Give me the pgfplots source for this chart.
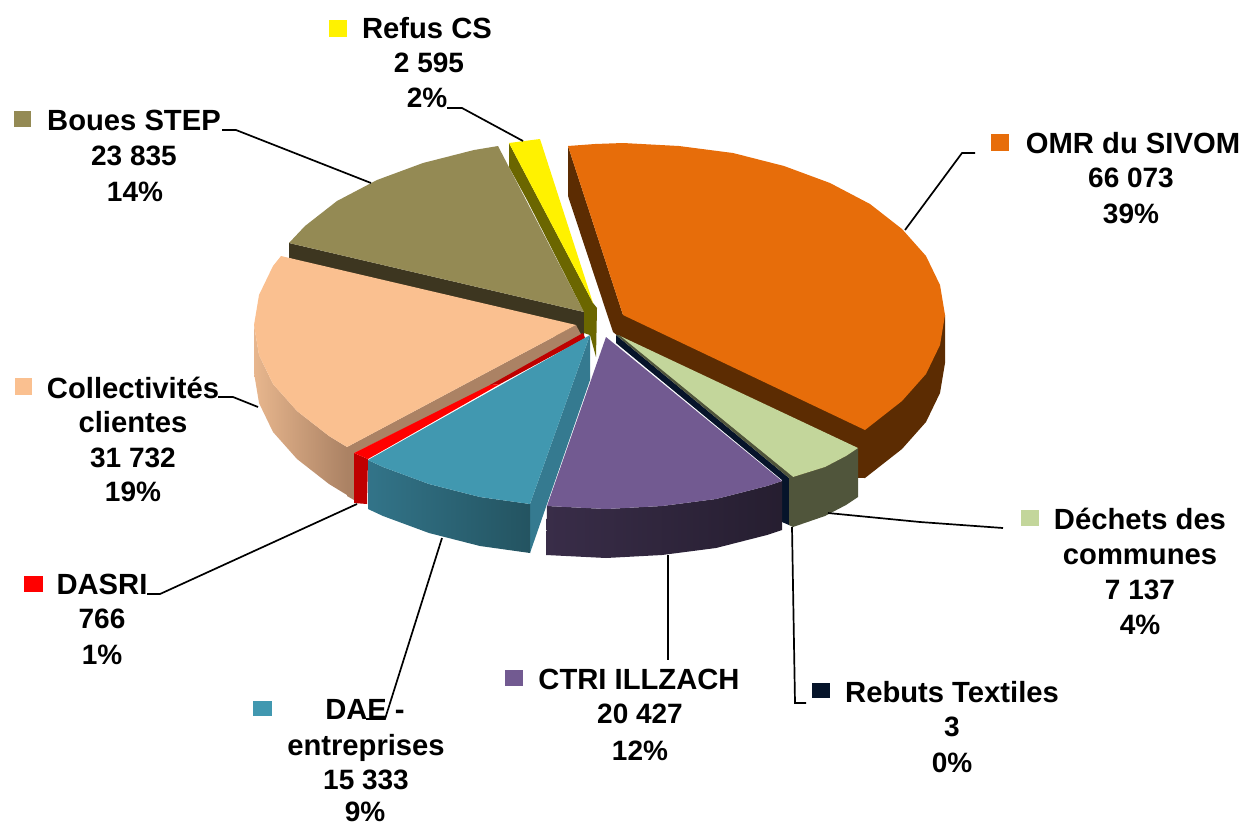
\documentclass[border=0pt]{standalone}
\usepackage{pgfplots}
\pgfplotsset{compat=1.18}
\usepackage{fontspec}
\setmainfont{Liberation Sans}

\definecolor{omr}{HTML}{E76D0A}
\definecolor{omrside}{HTML}{5C2C02}
\definecolor{dech}{HTML}{C3D69B}
\definecolor{dechside}{HTML}{50553B}
\definecolor{rebut}{HTML}{06142A}
\definecolor{ctri}{HTML}{725A91}
\definecolor{dae}{HTML}{4198B0}
\definecolor{daeside}{HTML}{357A90}
\definecolor{coll}{HTML}{FAC090}
\definecolor{collside}{HTML}{AB8264}
\definecolor{boues}{HTML}{948A54}
\definecolor{bouesside}{HTML}{3D3620}
\definecolor{refusside}{HTML}{6B6600}

% numbers at 28, names a little wider as in the picture
\newcommand{\lab}[3]{\node[anchor=base,inner sep=0pt,font=\fontsize{28}{34}\selectfont\bfseries] at (axis cs:#1,#2) {#3};}
\newcommand{\nam}[3]{\node[anchor=base,inner sep=0pt,font=\fontsize{29.2}{34}\selectfont\bfseries] at (axis cs:#1,#2) {#3};}
\newcommand{\key}[5]{\addplot[draw=none,fill=#5] coordinates {(#1,#2) (#3,#2) (#3,#4) (#1,#4)} --cycle;}
\tikzset{leader/.style={black,line width=1.7pt,mark=none}}

\begin{document}
\begin{tikzpicture}
\begin{axis}[
    width=1242pt, height=823pt,
    scale only axis,
    hide axis,
    xmin=0, xmax=1242,
    ymin=0, ymax=823,
    y dir=reverse,
]
\path (rel axis cs:0,0) rectangle (rel axis cs:1,1);

% Boues STEP
\addplot[draw=none,fill=bouesside] coordinates {(289,243) (584,312) (584,345) (289,258)} --cycle;
\addplot[draw=none,fill=boues] coordinates {(289,243) (305,226) (337,201) (377,180) (423,163) (474,150) (498,146) (584,312)} --cycle;

% Refus CS
\addplot[draw=none,fill=refusside] coordinates {(509,143) (509,167) (527,200) (584,312) (584,333) (590,335) (596,357) (597,308) (593,303)} --cycle;
\addplot[draw=none,fill=yellow] coordinates {(509,143) (540,139) (593,303)} --cycle;

% OMR du SIVOM
\addplot[draw=none,fill=omrside] coordinates {(568,146) (568,196) (613,332) (618,336) (793,477) (865,478) (902,449) (926,422) (940,393) (945,363) (945,315) (623,315)} --cycle;
\addplot[draw=none,fill=omr] coordinates {(568,146) (595,144) (623,143) (679,146) (733,153) (784,166) (830,183) (870,204) (902,229) (926,256) (940,285) (945,315) (940,345) (926,374) (902,401) (865,430) (623,315)} --cycle;

% Dechets des communes
\addplot[draw=none,fill=dechside] coordinates {(793,477) (825,467) (846,456) (858,448) (858,497) (846,505) (825,516) (793,527)} --cycle;
\addplot[draw=none,fill=dech] coordinates {(618,335) (858,448) (846,456) (825,467) (793,477)} --cycle;

% Rebuts textiles
\addplot[draw=none,fill=rebut] coordinates {(616,335) (789,478) (789,525) (782,522) (782,480) (616,343)} --cycle;
\addplot[draw=none,fill=dechside] coordinates {(616,335) (619,335) (793,477) (793,527) (789,525) (789,478)} --cycle;

% CTRI ILLZACH
\addplot[draw=none,left color=ctri!50!black,right color=ctri!33!black] coordinates {(547,506) (606,509) (662,506) (716,499) (767,486) (782,481) (782,530) (767,535) (716,548) (662,555) (606,558) (546,555)} --cycle;
\addplot[draw=none,fill=ctri] coordinates {(606,337) (782,481) (767,486) (716,499) (662,506) (606,509) (547,506)} --cycle;

% Collectivites clientes
\addplot[draw=none,left color=coll!85!gray,right color=collside] coordinates {(254,325) (254,373) (259,403) (273,432) (297,459) (329,484) (347,495) (347,447) (329,436) (297,411) (273,384) (259,355)} --cycle;
\addplot[draw=none,fill=collside] coordinates {(576,325) (347,447) (347,496) (354,500) (354,453) (584,340)} --cycle;
\addplot[draw=none,fill=coll] coordinates {(281,256) (273,266) (259,295) (254,325) (259,355) (273,384) (297,411) (329,436) (347,447) (576,325)} --cycle;

% DASRI
\addplot[draw=none,fill=red!75!black] coordinates {(354,453) (354,503) (367,504) (368,459)} --cycle;
\addplot[draw=none,fill=red!75!black] coordinates {(490,385) (583,333) (585,338) (500,384)} --cycle;
\addplot[draw=none,fill=red] coordinates {(354,453) (368,459) (500,384) (490,385)} --cycle;

% DAE - entreprises
\addplot[draw=none,fill=daeside] coordinates {(590,335) (530,504) (530,553) (590,380)} --cycle;
\addplot[draw=none,left color=daeside!95!black,right color=dae!55!black] coordinates {(368,460) (383,467) (429,484) (480,497) (530,504) (530,553) (480,546) (429,533) (383,516) (368,509)} --cycle;
\addplot[draw=none,fill=dae] coordinates {(590,335) (368,460) (383,467) (429,484) (480,497) (530,504)} --cycle;

% leader lines
\addplot[leader] coordinates {(905,230) (962,153) (975,153)};
\addplot[leader] coordinates {(447,108) (462,108) (523,141)};
\addplot[leader] coordinates {(222,130) (236,130) (371,183)};
\addplot[leader] coordinates {(218,397) (233,397) (258,407)};
\addplot[leader] coordinates {(147,594) (160,594) (357,504)};
\addplot[leader] coordinates {(366,719) (385,719) (442,538)};
\addplot[leader] coordinates {(668,555) (668,660)};
\addplot[leader] coordinates {(792,527) (795,703) (806,703)};
\addplot[leader] coordinates {(828,513) (920,522) (1003,528)};

% legend keys
\key{991}{134}{1009}{151}{omr}
\key{329}{20}{347}{37}{yellow}
\key{14}{111}{31}{127}{boues}
\key{15}{378}{32}{395}{coll}
\key{24}{576}{43}{592}{red}
\key{253}{701}{272}{716}{dae}
\key{505}{670}{523}{686}{ctri}
\key{812}{683}{830}{698}{rebut}
\key{1021}{510}{1039}{526}{dech}

% labels
\nam{427}{38}{Refus CS} \lab{429}{72}{2 595} \lab{427}{107}{2\%}
\nam{134}{130}{Boues STEP} \lab{134}{165}{23 835} \lab{135}{201}{14\%}
\nam{1133}{153}{OMR du SIVOM} \lab{1131}{187}{66 073} \lab{1131}{223}{39\%}
\nam{133}{398}{Collectivités} \nam{133}{432}{clientes} \lab{133}{467}{31 732} \lab{133}{501}{19\%}
\nam{102}{594}{DASRI} \lab{102}{628}{766} \lab{102}{664}{1\%}
\nam{365}{719}{DAE -} \nam{366}{755}{entreprises} \lab{366}{789}{15 333} \lab{365}{821}{9\%}
\nam{639}{689}{CTRI ILLZACH} \lab{640}{723}{20 427} \lab{640}{760}{12\%}
\nam{952}{702}{Rebuts Textiles} \lab{952}{736}{3} \lab{952}{772}{0\%}
\nam{1140}{529}{Déchets des} \nam{1140}{564}{communes} \lab{1140}{599}{7 137} \lab{1140}{634}{4\%}
\end{axis}
\end{tikzpicture}
\end{document}
